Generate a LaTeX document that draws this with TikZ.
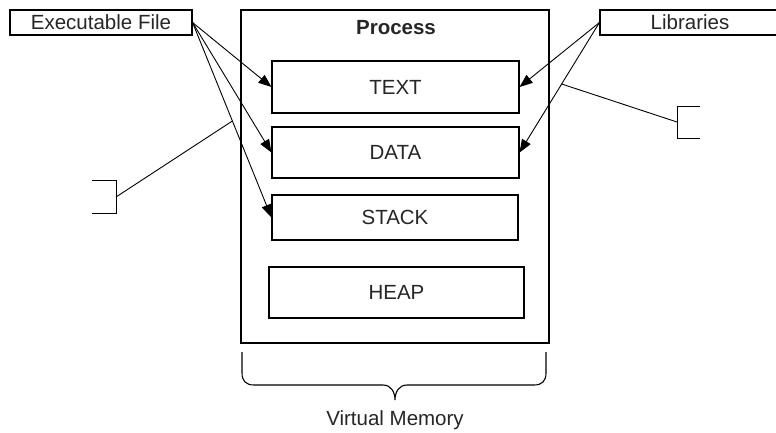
\documentclass[tikz,border=0pt]{standalone}
\usepackage{fontspec}
\setmainfont{Liberation Sans}
\usetikzlibrary{arrows.meta,calc}
\begin{document}
\begin{tikzpicture}[x=1pt,y=-1pt,
  box/.style={draw=black,line width=1.1pt,rectangle,inner sep=0pt,anchor=center,
    text=black!85,font=\fontsize{20.5}{24}\selectfont},
  conn/.style={line width=0.9pt},
  arr/.style={conn,-{Triangle[length=13pt,width=10pt]}},
  lbl/.style={text=black!85,font=\fontsize{20.5}{24}\selectfont,inner sep=0pt}]
\useasboundingbox[fill=white] (0,0) rectangle (776,432);
% process
\node[box,minimum width=308pt,minimum height=333pt] (proc) at (395,176.5) {};
\node[lbl,font=\fontsize{20.5}{24}\selectfont\bfseries] (ptitle) at (396,28) {Process};
\node[box,minimum width=247pt,minimum height=52pt] (text) at (395.5,87) {TEXT};
\node[box,minimum width=247pt,minimum height=51pt] (data) at (395.5,152.5) {DATA};
\node[box,minimum width=246pt,minimum height=45pt] (stack) at (395,217.5) {STACK};
\node[box,minimum width=255pt,minimum height=51pt] (heap) at (396.5,292.5) {HEAP};
% sources
\node[box,minimum width=182pt,minimum height=25pt] (exec) at (101,22.5) {Executable File};
\node[box,minimum width=180pt,minimum height=25pt] (lib) at (690,22.5) {Libraries};
% arrows
\draw[arr] (exec.east) -- (text.west);
\draw[arr] (exec.east) -- (data.west);
\draw[arr] (exec.east) -- (stack.west);
\draw[arr] (lib.west) -- (text.east);
\draw[arr] (lib.west) -- (data.east);
% callouts
\coordinate (cl) at ($(exec.east)!0.505!(stack.west)$);
\coordinate (cr) at ($(lib.west)!0.473!(data.east)$);
\coordinate (bl) at (116,197);
\coordinate (br) at (677,122);
\draw[conn] (cl) -- (bl);
\draw[conn] (92,180) -- (116,180) -- (116,213) -- (92,213);
\draw[conn] (cr) -- (br);
\draw[conn] (700,106) -- (677,106) -- (677,138) -- (700,138);
% brace
\draw[line width=1.1pt] (242,352) -- (242,373) .. controls (242,381) and (246,385) .. (254,385)
  -- (383,385) .. controls (391,385) and (395,392) .. (395,400)
  .. controls (395,392) and (399,385) .. (407,385)
  -- (534,385) .. controls (542,385) and (546,381) .. (546,373) -- (546,352);
\node[lbl] (vm) at (395,420) {Virtual Memory};
\end{tikzpicture}
\end{document}
